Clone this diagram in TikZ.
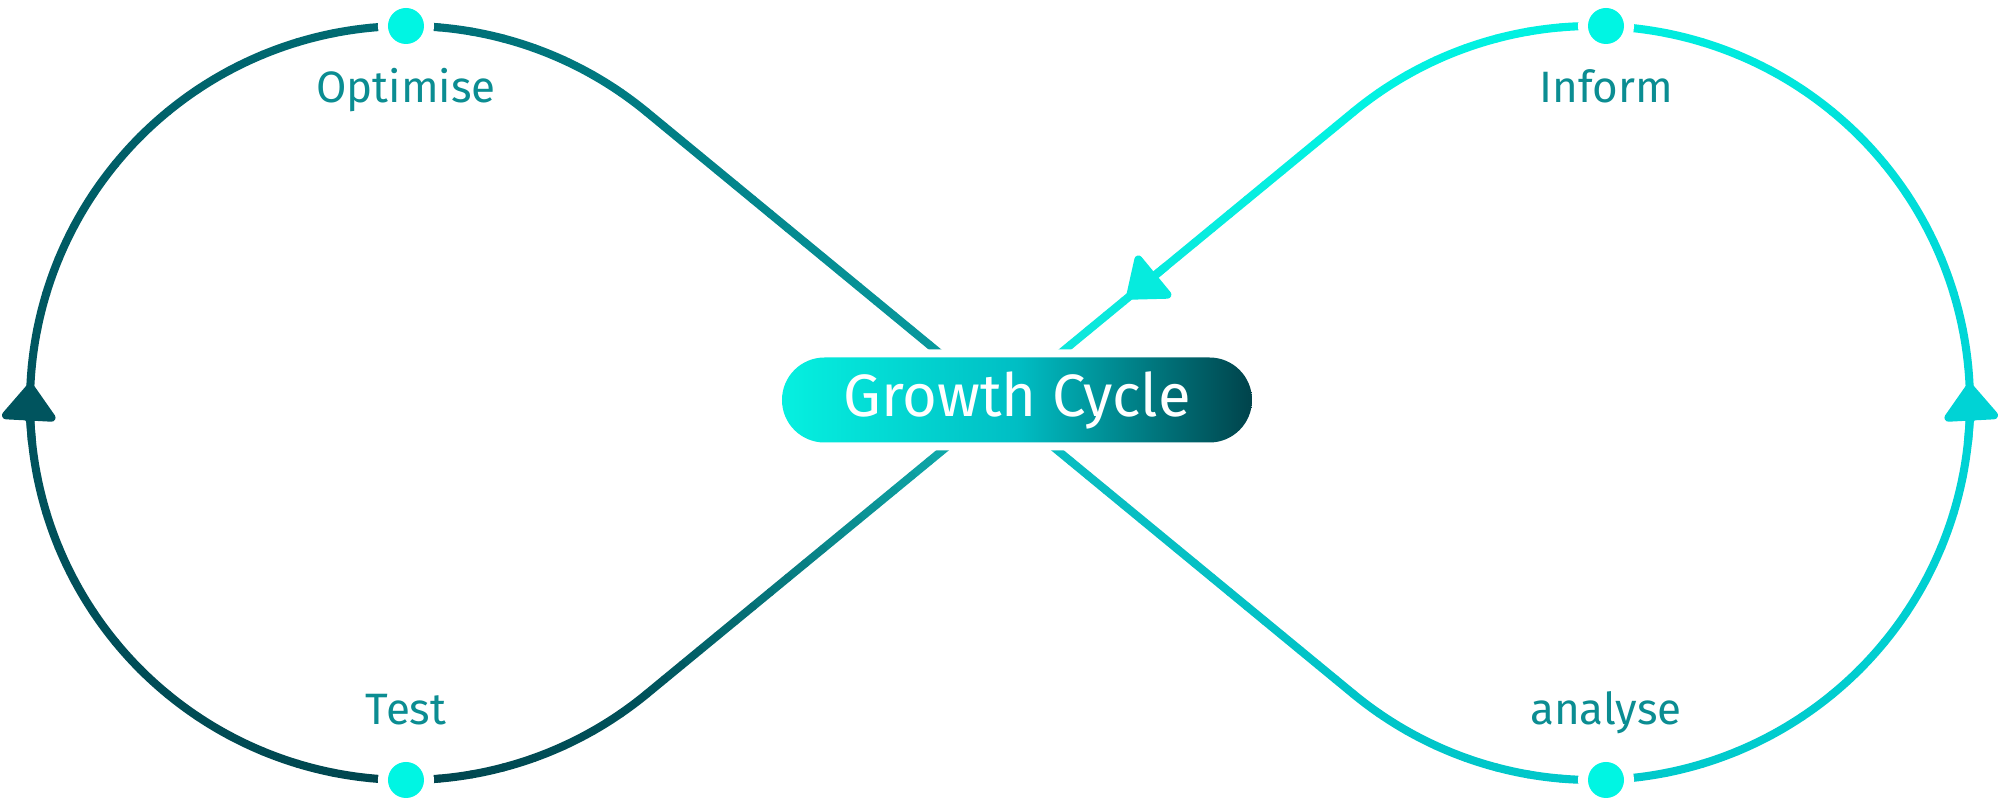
\documentclass[tikz,border=0pt]{standalone}
\usepackage{fontspec}
\setmainfont{Fira Sans}
\usetikzlibrary{arrows.meta,calc}

\definecolor{dotcyan}{HTML}{00F5E3}
\definecolor{labelteal}{HTML}{0B8D92}
\definecolor{cInform}{HTML}{00F0E0}
\definecolor{cURstart}{HTML}{02F2E2}
\definecolor{cURbox}{HTML}{10E4DA}
\definecolor{cLLbox}{HTML}{12B9B8}
\definecolor{cLLend}{HTML}{00525B}
\definecolor{cTest}{HTML}{00464F}
\definecolor{cLeft}{HTML}{00545E}
\definecolor{cOpt}{HTML}{006C74}
\definecolor{cULstart}{HTML}{007C83}
\definecolor{cULbox}{HTML}{0A9FA3}
\definecolor{cLRbox}{HTML}{0CBBBF}
\definecolor{cLRend}{HTML}{00C4C8}
\definecolor{cAnal}{HTML}{00C8CA}
\definecolor{cRight}{HTML}{00D3D5}
\definecolor{boxcyan}{HTML}{06F0E0}
\definecolor{boxmid}{HTML}{00BEC4}
\definecolor{boxdark}{HTML}{00434B}

% straight piece, colour goes from #3 to #4 in #5 steps
\newcommand{\gradline}[5]{%
  \foreach \k in {1,...,#5}{
    \pgfmathsetmacro{\tA}{(\k-1)/#5}
    \pgfmathsetmacro{\tB}{\k/#5}
    \pgfmathtruncatemacro{\mixpc}{100*(\k-0.5)/#5}
    \draw[flow, draw=#4!\mixpc!#3] ($(#1)!\tA!(#2)$) -- ($(#1)!\tB!(#2)$);
  }}
% arc piece round centre #1, angles #2 to #3
\newcommand{\gradarc}[6]{%
  \foreach \k in {1,...,#6}{
    \pgfmathsetmacro{\angA}{(#2)+((#3)-(#2))*(\k-1)/#6}
    \pgfmathsetmacro{\angB}{(#2)+((#3)-(#2))*\k/#6}
    \pgfmathtruncatemacro{\mixpc}{100*(\k-0.5)/#6}
    \draw[flow, draw=#5!\mixpc!#4] ($(#1)+(\angA:3.77)$) arc[start angle=\angA, end angle=\angB, radius=3.77];
  }}

\begin{document}
\begin{tikzpicture}[
    flow/.style={line width=2.3pt, line cap=round},
    flowtip/.style={-{Triangle[width=0.6cm,length=0.4cm,round]}},
    stepdot/.style={circle, inner sep=0pt, minimum size=0.36cm, fill=dotcyan,
      preaction={draw=white, line width=0.2cm}},
    steplabel/.style={text=labelteal, font=\fontsize{12.5}{15}\selectfont, anchor=base},
    growthbox/.style={rounded corners=0.425cm, minimum width=4.7cm, minimum height=0.85cm,
      inner sep=0pt, left color=boxcyan, right color=boxdark, middle color=boxmid,
      text=white, font=\fontsize{17}{20}\selectfont,
      preaction={draw=white, line width=0.16cm}}]
   \useasboundingbox (-10,-4.03) rectangle (10,4.03);
   \fill[white] (-10,-4.03) rectangle (10,4.03);

   \coordinate (O) at (0,0);
   \coordinate (lc) at (-5.93,0);
   \coordinate (rc) at (5.93,0);
   \pgfmathsetmacro{\tang}{acos(3.77/5.93)}
   \coordinate (TL) at ($(lc)+(\tang:3.77)$);
   \coordinate (BL) at ($(lc)+(-\tang:3.77)$);
   \coordinate (TR) at ($(rc)+(180-\tang:3.77)$);
   \coordinate (BR) at ($(rc)+(180+\tang:3.77)$);

   % crossing lines
   \gradline{TR}{O}{cURstart}{cURbox}{20}
   \gradline{O}{BL}{cLLbox}{cLLend}{20}
   \gradline{TL}{O}{cULstart}{cULbox}{20}
   \gradline{O}{BR}{cLRbox}{cLRend}{20}

   % left loop
   \gradarc{lc}{-\tang}{-90}{cLLend}{cTest}{8}
   \gradarc{lc}{-90}{-180}{cTest}{cLeft}{16}
   \gradarc{lc}{-180}{-270}{cLeft}{cOpt}{16}
   \gradarc{lc}{-270}{-360+\tang}{cOpt}{cULstart}{8}
   % right loop
   \gradarc{rc}{180+\tang}{270}{cLRend}{cAnal}{8}
   \gradarc{rc}{270}{360}{cAnal}{cRight}{16}
   \gradarc{rc}{360}{450}{cRight}{cInform}{16}
   \gradarc{rc}{450}{540-\tang}{cInform}{cURstart}{8}

   % arrow heads
   \draw[flow, flowtip, cLeft] ($(lc)+(186:3.77)$) arc[start angle=186, end angle=177, radius=3.77];
   \draw[flow, flowtip, cRight] ($(rc)+(-6:3.77)$) arc[start angle=-6, end angle=3, radius=3.77];
   \draw[flow, flowtip, cURbox!40!cInform] ($(O)!0.47!(TR)$) -- ($(O)!0.36!(TR)$);

   \node[growthbox] (growth) at (0.17,0.03) {Growth Cycle};

   \node[stepdot] (dopt) at (-5.94,3.77) {};
   \node[stepdot] (dtest) at (-5.94,-3.77) {};
   \node[stepdot] (dinform) at (6.06,3.77) {};
   \node[stepdot] (danalyse) at (6.06,-3.77) {};

   \node[steplabel] (lopt) at (-5.94,3.0) {Optimise};
   \node[steplabel] (ltest) at (-5.94,-3.22) {Test};
   \node[steplabel] (linform) at (6.06,3.0) {Inform};
   \node[steplabel] (lanalyse) at (6.06,-3.22) {analyse};
\end{tikzpicture}
\end{document}
